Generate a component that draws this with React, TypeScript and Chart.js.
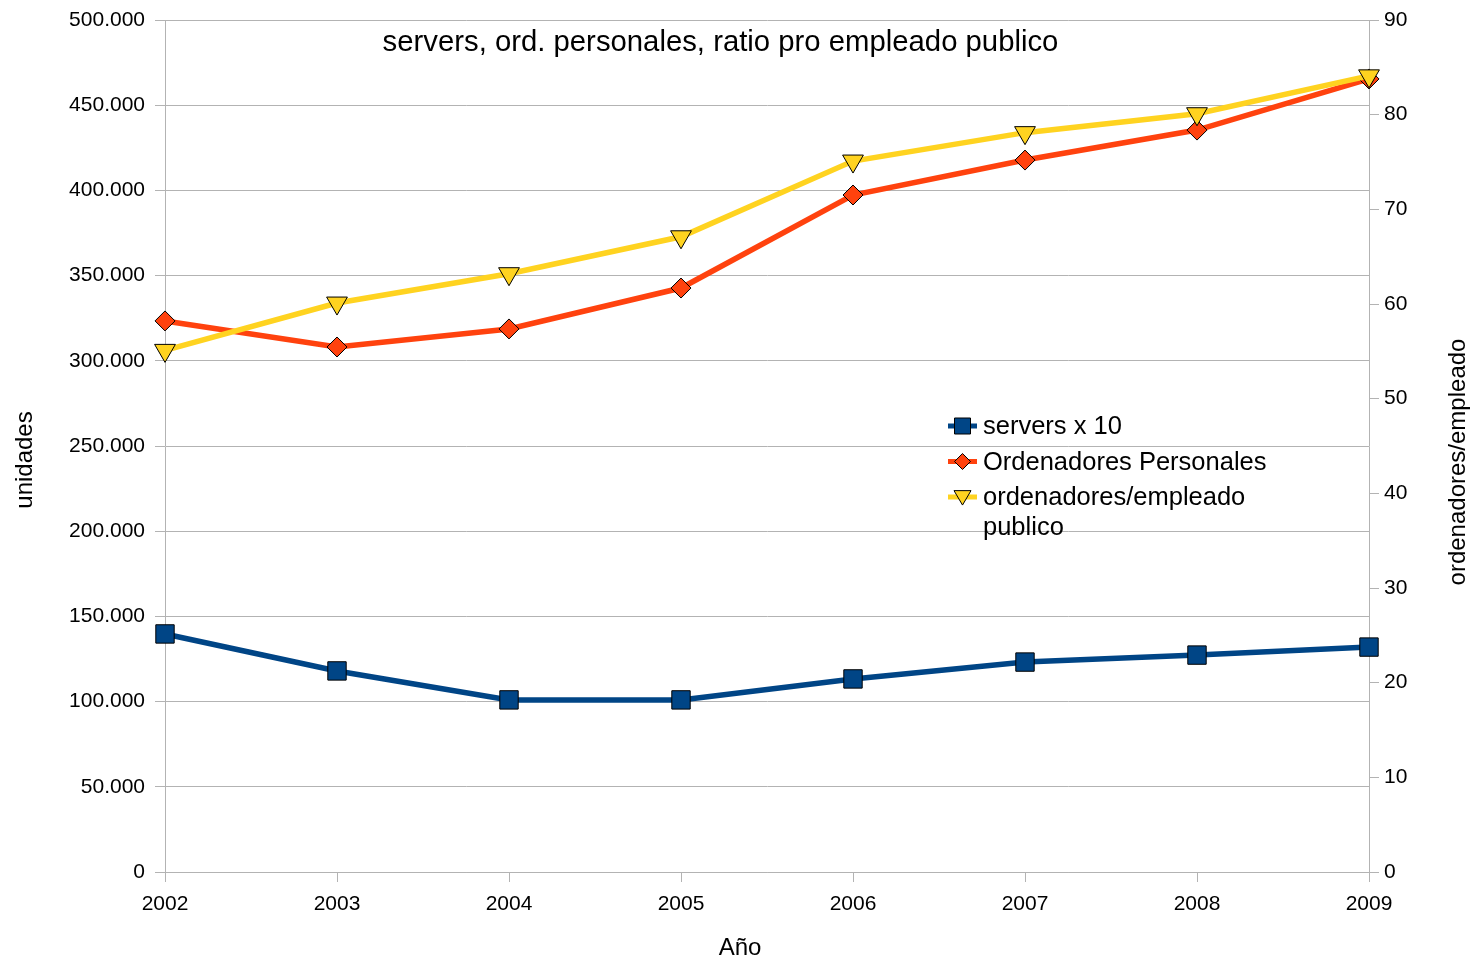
import React, { useEffect, useRef } from 'react';
import { Chart, registerables } from 'chart.js';

Chart.register(...registerables);

const FONT = '"Liberation Sans", Arial, sans-serif';

const years = ['2002', '2003', '2004', '2005', '2006', '2007', '2008', '2009'];
const serversX10 = [139700, 118000, 101000, 101000, 113300, 123200, 127300, 132000];
const ordenadoresPersonales = [323400, 308100, 318700, 342700, 397300, 417800, 435400, 465400];
const ordenadoresPorEmpleado = [55.1, 60.1, 63.2, 67.1, 75.1, 78.1, 80.1, 84.1];

const seriesNames = ['servers x 10', 'Ordenadores Personales', 'ordenadores/empleado publico'];
const seriesColors = ['#004586', '#ff420e', '#ffd320'];

const subtitleText = 'servers, ord. personales, ratio pro empleado publico';
const xTitle = 'Año';
const yLeftTitle = 'unidades';
const yRightTitle = 'ordenadores/empleado';

const leftMax = 500000;
const leftStep = 50000;
const rightMax = 90;
const rightStep = 10;

function fmtThousands(v: number): string {
  const s = Math.round(v).toString();
  return s.replace(/\B(?=(\d{3})+(?!\d))/g, '.');
}

function drawMarker(ctx: CanvasRenderingContext2D, style: string, x: number, y: number, color: string, size: number) {
  ctx.save();
  ctx.fillStyle = color;
  ctx.strokeStyle = '#000';
  ctx.lineWidth = 1;
  ctx.beginPath();
  if (style === 'rect') {
    ctx.rect(x - size, y - size, size * 2, size * 2);
  } else if (style === 'rectRot') {
    ctx.moveTo(x, y - size);
    ctx.lineTo(x + size, y);
    ctx.lineTo(x, y + size);
    ctx.lineTo(x - size, y);
    ctx.closePath();
  } else {
    ctx.moveTo(x - size, y - size * 0.75);
    ctx.lineTo(x + size, y - size * 0.75);
    ctx.lineTo(x, y + size * 0.95);
    ctx.closePath();
  }
  ctx.fill();
  ctx.stroke();
  ctx.restore();
}

function drawRotated(ctx: CanvasRenderingContext2D, text: string, x: number, y: number) {
  ctx.save();
  ctx.translate(x, y);
  ctx.rotate(-Math.PI / 2);
  ctx.fillText(text, 0, 0);
  ctx.restore();
}

const overlayPlugin = {
  id: 'overlay',
  afterDraw(chart: any) {
    const ctx: CanvasRenderingContext2D = chart.ctx;
    ctx.save();
    // subtitle
    ctx.font = `29.3px ${FONT}`;
    ctx.fillStyle = '#000';
    ctx.textAlign = 'center';
    ctx.textBaseline = 'middle';
    ctx.fillText(subtitleText, 720.5, 43);

    // axis titles
    ctx.font = `24px ${FONT}`;
    ctx.fillText(xTitle, 740, 948);
    drawRotated(ctx, yLeftTitle, 25, 460);
    drawRotated(ctx, yRightTitle, 1458, 462);

    // legend
    const lineX0 = 948;
    const lineX1 = 977;
    const textX = 983;
    const maxW = 295;
    const lineGap = 30;
    const rowGap = 35.5;
    let y = 427;
    ctx.font = `25.5px ${FONT}`;
    ctx.textAlign = 'left';
    chart.data.datasets.forEach((ds: any) => {
      ctx.strokeStyle = ds.borderColor;
      ctx.lineWidth = 5;
      ctx.beginPath();
      ctx.moveTo(lineX0, y - 1);
      ctx.lineTo(lineX1, y - 1);
      ctx.stroke();
      const mSize = ds.pointStyle === 'rect' ? 8 : ds.pointStyle === 'rectRot' ? 8 : 8.5;
      drawMarker(ctx, ds.pointStyle, (lineX0 + lineX1) / 2, y - 1, ds.backgroundColor, mSize);
      const words = String(ds.label).split(' ');
      const lines: string[] = [];
      let cur = '';
      words.forEach((w) => {
        const test = cur ? cur + ' ' + w : w;
        if (ctx.measureText(test).width > maxW && cur) {
          lines.push(cur);
          cur = w;
        } else {
          cur = test;
        }
      });
      if (cur) lines.push(cur);
      ctx.fillStyle = '#000';
      lines.forEach((ln, i) => {
        ctx.fillText(ln, textX, y + i * lineGap);
      });
      y += rowGap + (lines.length - 1) * lineGap;
    });
    ctx.restore();
  },
};

export default function App() {
  const ref = useRef<HTMLCanvasElement | null>(null);

  useEffect(() => {
    if (!ref.current) return;
    const gridColor = '#b3b3b3';
    const tickFont = { family: FONT, size: 21 };
    const chart = new Chart(ref.current, {
      type: 'line',
      data: {
        labels: years,
        datasets: [
          {
            label: seriesNames[0],
            data: serversX10,
            yAxisID: 'y',
            borderColor: seriesColors[0],
            backgroundColor: seriesColors[0],
            borderWidth: 5.5,
            pointStyle: 'rect',
            pointRadius: 13,
            pointBorderColor: '#000',
            pointBorderWidth: 1,
            tension: 0,
            clip: false,
            order: 2,
          },
          {
            label: seriesNames[1],
            data: ordenadoresPersonales,
            yAxisID: 'y',
            borderColor: seriesColors[1],
            backgroundColor: seriesColors[1],
            borderWidth: 5.5,
            pointStyle: 'rectRot',
            pointRadius: 10,
            pointBorderColor: '#000',
            pointBorderWidth: 1,
            tension: 0,
            clip: false,
            order: 1,
          },
          {
            label: seriesNames[2],
            data: ordenadoresPorEmpleado,
            yAxisID: 'y1',
            borderColor: seriesColors[2],
            backgroundColor: seriesColors[2],
            borderWidth: 5.5,
            pointStyle: 'triangle',
            pointRotation: 180,
            pointRadius: 12,
            pointBorderColor: '#000',
            pointBorderWidth: 1,
            tension: 0,
            clip: false,
            order: 0,
          },
        ],
      } as any,
      options: {
        responsive: false,
        animation: false,
        devicePixelRatio: 1,
        layout: { padding: { top: 20, left: 0, right: 0, bottom: 0 } },
        plugins: {
          legend: { display: false },
          tooltip: { enabled: false },
          title: { display: false },
        },
        scales: {
          x: {
            type: 'category',
            offset: false,
            grid: { drawOnChartArea: false, drawTicks: true, tickLength: 10, color: gridColor },
            border: { color: gridColor },
            ticks: { font: tickFont, color: '#000', padding: 10, maxRotation: 0, autoSkip: false },
            afterFit: (s: any) => {
              s.height = 87;
              s.paddingLeft = 0;
              s.paddingRight = 0;
            },
          },
          y: {
            position: 'left',
            min: 0,
            max: leftMax,
            ticks: {
              stepSize: leftStep,
              font: tickFont,
              color: '#000',
              padding: 10,
              callback: (v: any) => fmtThousands(Number(v)),
            },
            grid: { color: gridColor, tickLength: 10 },
            border: { color: gridColor },
            afterFit: (s: any) => {
              s.width = 165;
              s.paddingTop = 0;
              s.paddingBottom = 0;
            },
          },
          y1: {
            position: 'right',
            min: 0,
            max: rightMax,
            ticks: { stepSize: rightStep, font: tickFont, color: '#000', padding: 5 },
            grid: { drawOnChartArea: false, tickLength: 10, color: gridColor },
            border: { color: gridColor },
            afterFit: (s: any) => {
              s.width = 101;
              s.paddingTop = 0;
              s.paddingBottom = 0;
            },
          },
        },
      } as any,
      plugins: [overlayPlugin],
    });
    return () => chart.destroy();
  }, []);

  return (
    <div style={{ position: 'absolute', left: 0, top: 0, width: 1470, height: 959, background: '#fff' }}>
      <canvas ref={ref} width={1470} height={959} style={{ display: 'block' }} />
    </div>
  );
}
